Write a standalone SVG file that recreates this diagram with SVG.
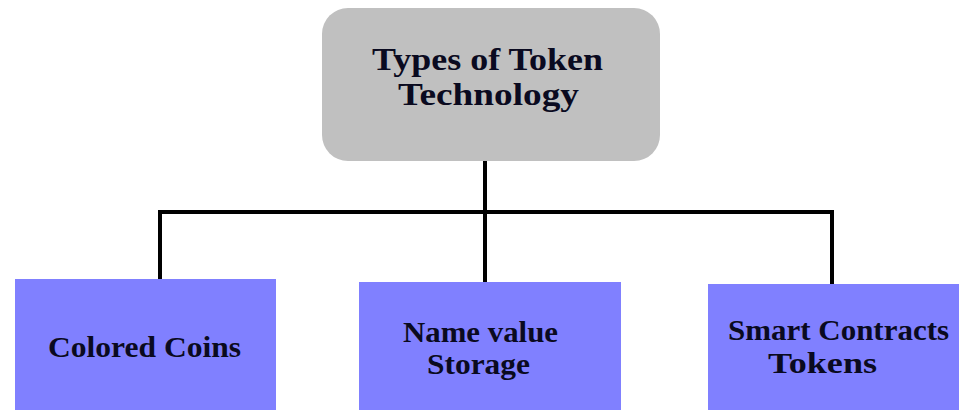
<svg xmlns="http://www.w3.org/2000/svg" width="959" height="410" viewBox="0 0 959 410">
<style>
.lbl{font-family:"Liberation Serif","Times New Roman",serif;font-weight:bold;fill:#0a0a20;}
.top{font-size:32px;}
.sub{font-size:30px;}
.conn{stroke:#000;stroke-width:4;fill:none;}
.blue{fill:#8080ff;}
</style>
<rect width="959" height="410" fill="#fff"/>
<g id="connectors">
<path class="conn" d="M485 160 V283 M160 212 H832 M160 210 V280 M832 210 V285"/>
</g>
<g id="root">
<rect x="322" y="8" width="338" height="153" rx="26" ry="26" fill="#c0c0c0"/>
<text class="lbl top" x="372" y="70" textLength="231" lengthAdjust="spacingAndGlyphs">Types of Token</text>
<text class="lbl top" x="398" y="105" textLength="181" lengthAdjust="spacingAndGlyphs">Technology</text>
</g>
<g id="colored-coins">
<rect class="blue" x="15" y="279" width="261" height="131"/>
<text class="lbl sub" x="48" y="357" textLength="193" lengthAdjust="spacingAndGlyphs">Colored Coins</text>
</g>
<g id="name-value-storage">
<rect class="blue" x="359" y="282" width="262" height="128"/>
<text class="lbl sub" x="403" y="342" textLength="155" lengthAdjust="spacingAndGlyphs">Name value</text>
<text class="lbl sub" x="427" y="374" textLength="103" lengthAdjust="spacingAndGlyphs">Storage</text>
</g>
<g id="smart-contracts-tokens">
<rect class="blue" x="708" y="284" width="251" height="126"/>
<text class="lbl sub" x="728" y="340" textLength="221" lengthAdjust="spacingAndGlyphs">Smart Contracts</text>
<text class="lbl sub" x="768" y="373" textLength="109" lengthAdjust="spacingAndGlyphs">Tokens</text>
</g>
</svg>
